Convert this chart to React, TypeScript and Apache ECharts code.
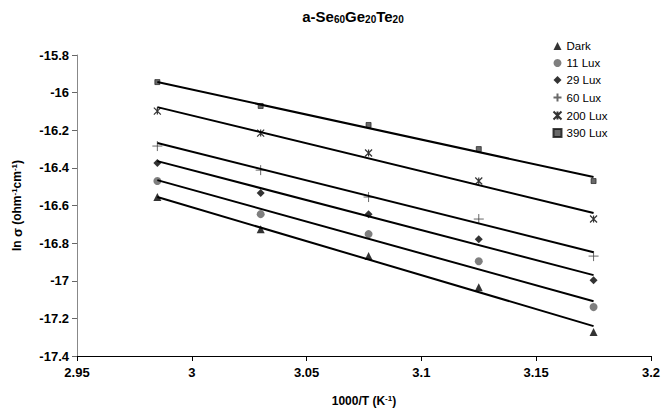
import React, { useEffect, useRef } from "react";
import * as echarts from "echarts";

const xValues = [2.985, 3.03, 3.077, 3.125, 3.175];
const seriesNames = ["Dark", "11 Lux", "29 Lux", "60 Lux", "200 Lux", "390 Lux"];
const dark = [-16.555, -16.726, -16.869, -17.034, -17.273];
const lux11 = [-16.47, -16.646, -16.752, -16.896, -17.14];
const lux29 = [-16.374, -16.534, -16.646, -16.779, -16.997];
const lux60 = [-16.284, -16.412, -16.555, -16.672, -16.869];
const lux200 = [-16.098, -16.215, -16.321, -16.47, -16.672];
const lux390 = [-15.944, -16.071, -16.172, -16.3, -16.47];
const trendX = [2.985, 3.175];
const trendStart = [-16.555, -16.465, -16.364, -16.268, -16.077, -15.944];
const trendEnd = [-17.241, -17.109, -16.97, -16.848, -16.64, -16.449];

const FONT = "'Liberation Sans', Arial, sans-serif";

export default function App() {
  const ref = useRef<HTMLDivElement>(null);
  useEffect(() => {
    document.body.style.margin = "0";
    if (!ref.current) return;
    const chart = echarts.init(ref.current, undefined, { renderer: "svg" });
    const values = [dark, lux11, lux29, lux60, lux200, lux390];
    const symbols: any[] = [
      { symbol: "triangle", size: 8, item: { color: "#000" } },
      { symbol: "circle", size: 8, item: { color: "#5f5f5f" } },
      { symbol: "diamond", size: 8, item: { color: "#000" } },
      {
        symbol: "path://M0,5L10,5M5,0L5,10",
        size: 10,
        item: { color: "none", borderColor: "#444", borderWidth: 1 },
      },
      {
        symbol: "path://M0,0L10,10M10,0L0,10M5,0L5,10",
        size: 7,
        item: { color: "none", borderColor: "#000", borderWidth: 1.2 },
      },
      { symbol: "rect", size: 5, item: { color: "#444", borderColor: "#111", borderWidth: 0.8 } },
    ];
    const legendIcons = [
      "triangle",
      "circle",
      "diamond",
      "path://M0,5L10,5M5,0L5,10",
      "path://M0,0L10,10M10,0L0,10M5,0L5,10",
      "rect",
    ];
    const scatterSeries = seriesNames.map((name, i) => ({
      name,
      type: "scatter",
      symbol: symbols[i].symbol,
      symbolSize: symbols[i].size,
      itemStyle: symbols[i].item,
      data: xValues.map((x, j) => [x, values[i][j]]),
      z: 2,
    }));
    const lineSeries = seriesNames.map((name, i) => ({
      name: name + " trend",
      type: "line",
      symbol: "none",
      lineStyle: { color: "#000", width: 2 },
      data: [
        [trendX[0], trendStart[i]],
        [trendX[1], trendEnd[i]],
      ],
      z: 3,
    }));
    chart.setOption({
      animation: false,
      textStyle: { fontFamily: FONT },
      grid: { left: 77, right: 9, top: 55, bottom: 58 },
      graphic: [
        {
          type: "text",
          x: 353,
          y: 15,
          style: {
            text: "{b|a-Se}{s|60}{b|Ge}{s|20}{b|Te}{s|20}",
            align: "center",
            verticalAlign: "middle",
            fontFamily: FONT,
            rich: {
              b: { fontSize: 15, fontWeight: "bold", fontFamily: FONT, lineHeight: 18, verticalAlign: "bottom" },
              s: {
                fontSize: 10,
                fontWeight: "bold",
                fontFamily: FONT,
                lineHeight: 18,
                verticalAlign: "bottom",
                padding: [4, 0, 0, 0],
              },
            },
          },
        },
      ],
      legend: {
        data: seriesNames.map((n, i) => ({
          name: n,
          icon: legendIcons[i],
        })),
        orient: "vertical",
        left: 546,
        top: 35,
        itemWidth: 8,
        itemHeight: 8,
        itemGap: 5,
        textStyle: { fontSize: 11.5, color: "#000", fontFamily: FONT, lineHeight: 12 },
      },
      xAxis: {
        type: "value",
        min: 2.95,
        max: 3.2,
        interval: 0.05,
        name: "{b|1000/T (K}{p|-1}{b|)}",
        nameLocation: "middle",
        nameGap: 38,
        nameTextStyle: {
          rich: {
            b: { fontSize: 12, fontWeight: "bold", fontFamily: FONT, color: "#000" },
            p: { fontSize: 8, fontWeight: "bold", fontFamily: FONT, color: "#000", verticalAlign: "top", padding: [0, 0, 6, 0] },
          },
        },
        axisLine: { lineStyle: { color: "#000", width: 1 } },
        axisTick: { lineStyle: { color: "#000" }, length: 5 },
        axisLabel: { fontSize: 13, fontWeight: "bold", color: "#000", fontFamily: FONT, margin: 10 },
        splitLine: { show: false },
      },
      yAxis: {
        type: "value",
        min: -17.4,
        max: -15.8,
        interval: 0.2,
        name: "{b|ln }{g|σ}{b| (ohm}{p|-1}{b|cm}{p|-1}{b|)}",
        nameLocation: "middle",
        nameRotate: 90,
        nameGap: 53,
        nameTextStyle: {
          rich: {
            b: { fontSize: 12, fontWeight: "bold", fontFamily: FONT, color: "#000" },
            g: { fontSize: 13, fontWeight: "bold", fontFamily: FONT, color: "#000" },
            p: { fontSize: 8, fontWeight: "bold", fontFamily: FONT, color: "#000", verticalAlign: "top", padding: [0, 0, 6, 0] },
          },
        },
        axisLine: { show: true, lineStyle: { color: "#888", width: 1 } },
        axisTick: { show: true, lineStyle: { color: "#666" }, length: 5 },
        axisLabel: { fontSize: 13, fontWeight: "bold", color: "#000", fontFamily: FONT, margin: 8 },
        splitLine: { show: false },
      },
      series: [...scatterSeries, ...lineSeries],
    });
    return () => chart.dispose();
  }, []);
  return <div ref={ref} style={{ width: 663, height: 414 }} />;
}
